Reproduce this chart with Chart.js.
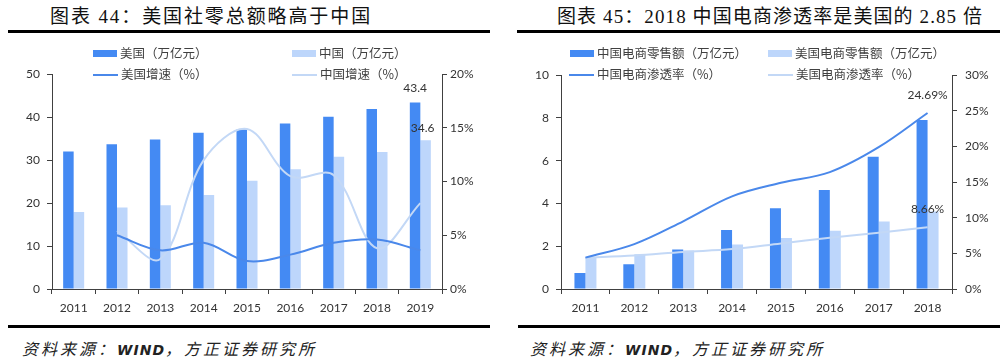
<!DOCTYPE html>
<html>
<head>
<meta charset="utf-8">
<script src="https://cdn.jsdelivr.net/npm/chart.js@4.4.0/dist/chart.umd.min.js"></script>
<style>
  body { margin: 0; background: #fff; }
  #page { position: relative; width: 1007px; height: 363px; overflow: hidden; font-family: "Noto Sans CJK SC", sans-serif; }
  .title { position: absolute; top: 4px; font-family: "Liberation Serif", "Noto Sans CJK SC", serif; font-size: 19px; color: #111; white-space: nowrap; line-height: 26px; }
  .rule { position: absolute; height: 3px; background: #000; }
  .src { position: absolute; top: 337px; font-size: 16px; font-style: italic; letter-spacing: 3px; color: #222; white-space: nowrap; line-height: 22px; }
  .src b { font-family: "DejaVu Sans", sans-serif; font-size: 14px; letter-spacing: 1px; }
  .lg { position: absolute; font-size: 12.5px; color: #404040; white-space: nowrap; line-height: 16px; }
  .sw { display: inline-block; width: 24px; height: 7px; vertical-align: middle; margin-right: 3px; margin-top: -2px; }
  .ln { display: inline-block; width: 25px; height: 2px; vertical-align: middle; margin-right: 3px; margin-top: -2px; }
  canvas { position: absolute; }
</style>
</head>
<body>
<div id="page">
  <div class="title" style="left:50px; letter-spacing:1.9px">图表 44：美国社零总额略高于中国</div>
  <div class="rule" style="left:8px; top:30px; width:482px"></div>
  <div class="title" style="left:557px; letter-spacing:1.1px">图表 45：2018 中国电商渗透率是美国的 2.85 倍</div>
  <div class="rule" style="left:517px; top:30px; width:483px"></div>

  <canvas id="left" width="500" height="265" style="left:0; top:60px"></canvas>
  <canvas id="right" width="502" height="265" style="left:505px; top:60px"></canvas>

  <div class="lg" style="left:93px; top:45px"><span class="sw" style="background:#448af3"></span>美国（万亿元）</div>
  <div class="lg" style="left:292px; top:45px"><span class="sw" style="background:#bdd6fb"></span>中国（万亿元）</div>
  <div class="lg" style="left:93px; top:66px"><span class="ln" style="background:#4a88ea"></span>美国增速（%）</div>
  <div class="lg" style="left:292px; top:66px"><span class="ln" style="background:#c3d8f6"></span>中国增速（%）</div>

  <div class="lg" style="left:570px; top:45px"><span class="sw" style="background:#448af3"></span>中国电商零售额（万亿元）</div>
  <div class="lg" style="left:768px; top:45px"><span class="sw" style="background:#bdd6fb"></span>美国电商零售额（万亿元）</div>
  <div class="lg" style="left:569px; top:66px"><span class="ln" style="background:#4a88ea"></span>中国电商渗透率（%）</div>
  <div class="lg" style="left:768px; top:66px"><span class="ln" style="background:#c3d8f6"></span>美国电商渗透率（%）</div>

  <div class="rule" style="left:8px; top:325px; width:482px"></div>
  <div class="rule" style="left:518px; top:325px; width:482px"></div>
  <div class="src" style="left:22px">资料来源：<b>WIND</b>，方正证券研究所</div>
  <div class="src" style="left:530px">资料来源：<b>WIND</b>，方正证券研究所</div>
</div>

<script>
// chart 44: retail sales, US vs China
const years44 = ['2011', '2012', '2013', '2014', '2015', '2016', '2017', '2018', '2019'];
const usRetail = [32.0, 33.7, 34.8, 36.4, 37.1, 38.5, 40.1, 41.9, 43.4];
const cnRetail = [17.9, 19.0, 19.5, 21.9, 25.2, 27.9, 30.8, 31.9, 34.6];
const usGrowth = [null, 5.0, 3.6, 4.3, 2.6, 3.2, 4.3, 4.6, 3.6];
const cnGrowth = [null, 5.4, 2.8, 12.0, 14.9, 10.5, 10.6, 3.8, 8.0];

// chart 45: e-commerce sales and penetration
const years45 = ['2011', '2012', '2013', '2014', '2015', '2016', '2017', '2018'];
const cnEcom = [0.75, 1.16, 1.85, 2.76, 3.78, 4.63, 6.19, 7.9];
const usEcom = [1.47, 1.62, 1.8, 2.08, 2.39, 2.73, 3.16, 3.62];
const cnPen = [4.4, 6.3, 9.5, 13.0, 14.9, 16.4, 19.9, 24.69];
const usPen = [4.4, 4.7, 5.2, 5.6, 6.4, 7.2, 7.9, 8.66];

const DARK = '#448af3', LIGHT = '#bdd6fb', LINE_DARK = '#4a88ea', LINE_LIGHT = '#c3d8f6';
const AXIS = '#404040';
const tickFont = { family: 'Lato', size: 12 };

// draws the few value labels next to chosen points
const valueLabels = {
  id: 'valueLabels',
  afterDatasetsDraw(chart, args, opts) {
    const ctx = chart.ctx;
    (opts.items || []).forEach(it => {
      const el = chart.getDatasetMeta(it.ds).data[it.i];
      const v = chart.data.datasets[it.ds].data[it.i];
      ctx.save();
      ctx.font = '12px Lato';
      ctx.fillStyle = '#333';
      ctx.textAlign = 'center';
      ctx.textBaseline = 'middle';
      ctx.fillText(v + (it.suffix || ''), el.x + (it.dx || 0), el.y - it.dy);
      ctx.restore();
    });
  }
};

function axisGrid() {
  return { display: true, drawOnChartArea: false, drawTicks: true, tickLength: 5, color: AXIS };
}

function buildChart(el, cfg) {
  const pct = v => v + '%';
  return new Chart(el, {
    data: {
      labels: cfg.labels,
      datasets: [
        { type: 'line', data: cfg.line1, borderColor: LINE_DARK, borderWidth: 2, pointRadius: 0, tension: 0.35, yAxisID: 'y1', order: 0 },
        { type: 'line', data: cfg.line2, borderColor: LINE_LIGHT, borderWidth: 2, pointRadius: 0, tension: 0.35, yAxisID: 'y1', order: 0 },
        { type: 'bar', data: cfg.bar1, backgroundColor: DARK, categoryPercentage: cfg.cat, barPercentage: 1, yAxisID: 'y', order: 1 },
        { type: 'bar', data: cfg.bar2, backgroundColor: LIGHT, categoryPercentage: cfg.cat, barPercentage: 1, yAxisID: 'y', order: 1 }
      ]
    },
    options: {
      responsive: false,
      animation: false,
      devicePixelRatio: 1,
      layout: { padding: { top: 14, left: 0, right: 0, bottom: 0 } },
      plugins: {
        legend: { display: false },
        tooltip: { enabled: false },
        valueLabels: { items: cfg.labels2 }
      },
      scales: {
        x: {
          grid: axisGrid(),
          border: { color: AXIS, width: 1 },
          ticks: { font: tickFont, color: '#333', padding: 7, maxRotation: 0 },
          afterFit: s => { s.height = 36; }
        },
        y: {
          position: 'left',
          min: 0, max: cfg.yMax,
          grid: axisGrid(),
          border: { color: AXIS, width: 1 },
          ticks: { stepSize: cfg.yStep, font: tickFont, color: '#333', padding: 7 },
          afterFit: s => { s.width = cfg.leftW; }
        },
        y1: {
          position: 'right',
          min: 0, max: cfg.y1Max,
          grid: axisGrid(),
          border: { color: AXIS, width: 1 },
          ticks: { stepSize: 5, font: tickFont, color: '#333', padding: cfg.rightPad, callback: pct },
          afterFit: s => { s.width = cfg.rightW; }
        }
      }
    },
    plugins: [valueLabels]
  });
}

buildChart(document.getElementById('left'), {
  labels: years44,
  bar1: usRetail, bar2: cnRetail,
  line1: usGrowth, line2: cnGrowth,
  cat: 0.485,
  yMax: 50, yStep: 10, y1Max: 20,
  leftW: 52, rightW: 58, rightPad: 3,
  labels2: [
    { ds: 2, i: 8, dy: 14 },
    { ds: 3, i: 8, dy: 12, dx: -3 }
  ]
});

buildChart(document.getElementById('right'), {
  labels: years45,
  bar1: cnEcom, bar2: usEcom,
  line1: cnPen, line2: usPen,
  cat: 0.45,
  yMax: 10, yStep: 2, y1Max: 30,
  leftW: 56, rightW: 55, rightPad: 8,
  labels2: [
    { ds: 0, i: 7, dy: 18, suffix: '%' },
    { ds: 1, i: 7, dy: 18, suffix: '%' }
  ]
});
</script>
</body>
</html>
